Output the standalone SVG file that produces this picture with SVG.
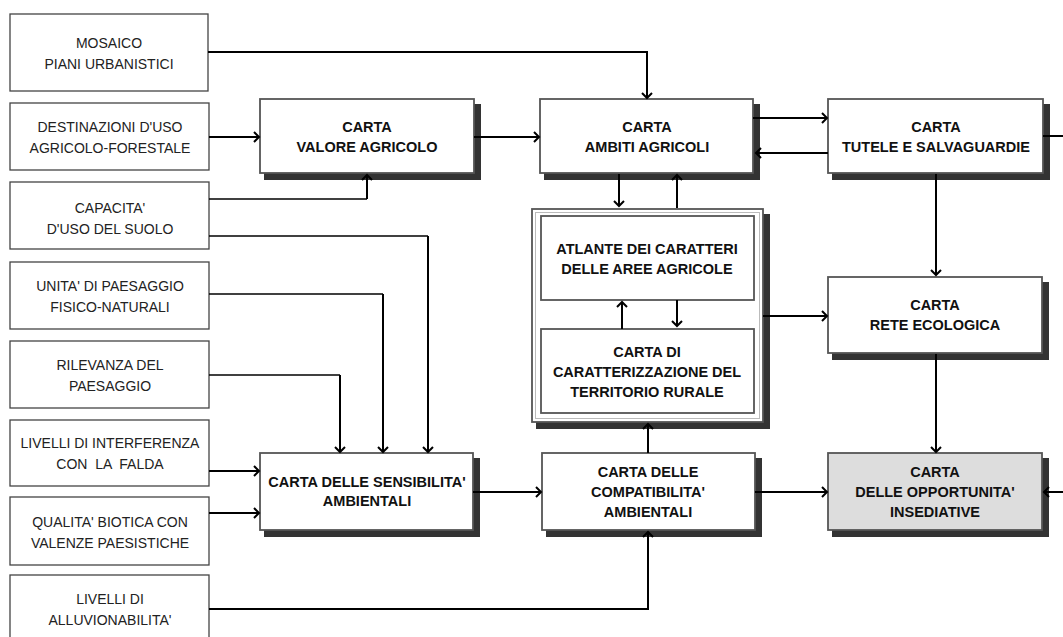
<svg xmlns="http://www.w3.org/2000/svg" width="1063" height="637" viewBox="0 0 1063 637">
<style>
.src{fill:#fff;stroke:#444;stroke-width:1.3}
.box{fill:#fff;stroke:#555;stroke-width:1.8}
.sh{fill:#333}
.t{font-family:"Liberation Sans",Arial,sans-serif;font-size:14px;fill:#222;text-anchor:middle;white-space:pre}
.b{font-family:"Liberation Sans",Arial,sans-serif;font-size:14.5px;font-weight:bold;fill:#111;text-anchor:middle}
.c{fill:none;stroke:#000;stroke-width:2}
.c1{fill:none;stroke:#000;stroke-width:1.3}
</style>
<defs>
<marker id="a" markerWidth="12" markerHeight="12" refX="9" refY="6" orient="auto" markerUnits="userSpaceOnUse">
<path d="M4,1 L9,6 L4,11" fill="none" stroke="#000" stroke-width="2"/>
</marker>
</defs>
<rect width="1063" height="637" fill="#fff"/>

<g id="mosaico">
<rect class="src" x="10" y="14" width="198" height="77"/>
<text class="t" x="109" y="48">MOSAICO</text>
<text class="t" x="109" y="69">PIANI URBANISTICI</text>
</g>
<g id="destinazioni">
<rect class="src" x="10" y="103" width="199" height="67"/>
<text class="t" x="110" y="132">DESTINAZIONI D'USO</text>
<text class="t" x="110" y="153">AGRICOLO-FORESTALE</text>
</g>
<g id="capacita">
<rect class="src" x="10" y="182" width="199" height="67"/>
<text class="t" x="110" y="213">CAPACITA'</text>
<text class="t" x="110" y="234">D'USO DEL SUOLO</text>
</g>
<g id="unita">
<rect class="src" x="10" y="262" width="199" height="67"/>
<text class="t" x="110" y="291">UNITA' DI PAESAGGIO</text>
<text class="t" x="110" y="312">FISICO-NATURALI</text>
</g>
<g id="rilevanza">
<rect class="src" x="10" y="341" width="199" height="67"/>
<text class="t" x="110" y="370">RILEVANZA DEL</text>
<text class="t" x="110" y="391">PAESAGGIO</text>
</g>
<g id="interferenza">
<rect class="src" x="10" y="420" width="199" height="66"/>
<text class="t" x="110" y="448">LIVELLI DI INTERFERENZA</text>
<text class="t" x="110" y="469">CON  LA  FALDA</text>
</g>
<g id="qualita">
<rect class="src" x="10" y="497" width="199" height="68"/>
<text class="t" x="110" y="527">QUALITA' BIOTICA CON</text>
<text class="t" x="110" y="548">VALENZE PAESISTICHE</text>
</g>
<g id="alluvionabilita">
<rect class="src" x="10" y="575" width="199" height="80"/>
<text class="t" x="110" y="604">LIVELLI DI</text>
<text class="t" x="110" y="625">ALLUVIONABILITA'</text>
</g>

<g id="valore">
<rect class="sh" x="264" y="104" width="217" height="76"/>
<rect class="box" x="260" y="99" width="214" height="74"/>
<text class="b" x="367" y="132">CARTA</text>
<text class="b" x="367" y="152">VALORE AGRICOLO</text>
</g>
<g id="ambiti">
<rect class="sh" x="544" y="104" width="216" height="76"/>
<rect class="box" x="540" y="99" width="213" height="74"/>
<text class="b" x="647" y="132">CARTA</text>
<text class="b" x="647" y="152">AMBITI AGRICOLI</text>
</g>
<g id="tutele">
<rect class="sh" x="832" y="104" width="218" height="76"/>
<rect class="box" x="828" y="99" width="215" height="74"/>
<text class="b" x="936" y="132">CARTA</text>
<text class="b" x="936" y="152">TUTELE E SALVAGUARDIE</text>
</g>

<g id="gruppo-rurale">
<rect class="sh" x="536" y="214" width="234" height="215"/>
<rect class="box" x="532" y="209" width="231" height="213" stroke-width="2.5"/>
<rect x="535.5" y="212.5" width="224" height="206" fill="none" stroke="#bbb" stroke-width="1"/>
</g>
<g id="atlante">
<rect class="box" x="541" y="216" width="213" height="84" stroke-width="1.3"/>
<text class="b" x="647" y="254">ATLANTE DEI CARATTERI</text>
<text class="b" x="647" y="274">DELLE AREE AGRICOLE</text>
</g>
<g id="caratterizzazione">
<rect class="box" x="541" y="329" width="213" height="84" stroke-width="1.3"/>
<text class="b" x="647" y="357">CARTA DI</text>
<text class="b" x="647" y="377">CARATTERIZZAZIONE DEL</text>
<text class="b" x="647" y="397">TERRITORIO RURALE</text>
</g>

<g id="rete">
<rect class="sh" x="832" y="282" width="217" height="78"/>
<rect class="box" x="828" y="277" width="214" height="76"/>
<text class="b" x="935" y="310">CARTA</text>
<text class="b" x="935" y="330">RETE ECOLOGICA</text>
</g>

<g id="sensibilita">
<rect class="sh" x="264" y="458" width="216" height="79"/>
<rect class="box" x="260" y="453" width="213" height="77"/>
<text class="b" x="367" y="487">CARTA DELLE SENSIBILITA'</text>
<text class="b" x="367" y="506">AMBIENTALI</text>
</g>
<g id="compatibilita">
<rect class="sh" x="546" y="458" width="216" height="79"/>
<rect class="box" x="542" y="453" width="213" height="77"/>
<text class="b" x="648" y="477">CARTA DELLE</text>
<text class="b" x="648" y="497">COMPATIBILITA'</text>
<text class="b" x="648" y="517">AMBIENTALI</text>
</g>
<g id="opportunita">
<rect class="sh" x="832" y="458" width="217" height="79"/>
<rect class="box" x="828" y="453" width="214" height="77" style="fill:#ddd"/>
<text class="b" x="935" y="477">CARTA</text>
<text class="b" x="935" y="497">DELLE OPPORTUNITA'</text>
<text class="b" x="935" y="517">INSEDIATIVE</text>
</g>

<g id="connectors">
<polyline class="c" points="208,52 647,52 647,98" marker-end="url(#a)"/>
<line class="c" x1="209" y1="137" x2="259" y2="137" marker-end="url(#a)"/>
<line class="c" x1="474" y1="137" x2="539" y2="137" marker-end="url(#a)"/>
<line class="c" x1="753" y1="118" x2="827" y2="118" marker-end="url(#a)"/>
<line class="c" x1="828" y1="153" x2="756" y2="153" marker-end="url(#a)"/>
<line class="c" x1="1043" y1="136" x2="1063" y2="136"/>
<polyline class="c1" points="209,199 367,199"/>
<line class="c" x1="367" y1="199" x2="367" y2="175" marker-end="url(#a)"/>
<polyline class="c1" points="209,236 428,236"/>
<line class="c" x1="428" y1="236" x2="428" y2="452" marker-end="url(#a)"/>
<polyline class="c1" points="209,294 383,294"/>
<line class="c" x1="383" y1="294" x2="383" y2="452" marker-end="url(#a)"/>
<polyline class="c1" points="209,375 340,375"/>
<line class="c" x1="340" y1="375" x2="340" y2="452" marker-end="url(#a)"/>
<line class="c" x1="209" y1="471" x2="259" y2="471" marker-end="url(#a)"/>
<line class="c" x1="209" y1="513" x2="259" y2="513" marker-end="url(#a)"/>
<line class="c" x1="473" y1="492" x2="541" y2="492" marker-end="url(#a)"/>
<polyline class="c" points="209,609 648,609 648,532" marker-end="url(#a)"/>
<line class="c" x1="648" y1="453" x2="648" y2="424" marker-end="url(#a)"/>
<line class="c" x1="619" y1="174" x2="619" y2="206" marker-end="url(#a)"/>
<line class="c" x1="677" y1="208" x2="677" y2="175" marker-end="url(#a)"/>
<line class="c" x1="622" y1="329" x2="622" y2="302" marker-end="url(#a)"/>
<line class="c" x1="677" y1="300" x2="677" y2="326" marker-end="url(#a)"/>
<line class="c" x1="763" y1="316" x2="827" y2="316" marker-end="url(#a)"/>
<line class="c" x1="936" y1="174" x2="936" y2="275" marker-end="url(#a)"/>
<line class="c" x1="936" y1="354" x2="936" y2="452" marker-end="url(#a)"/>
<line class="c" x1="755" y1="492" x2="827" y2="492" marker-end="url(#a)"/>
<line class="c" x1="1063" y1="492" x2="1044" y2="492" marker-end="url(#a)"/>
</g>
</svg>
